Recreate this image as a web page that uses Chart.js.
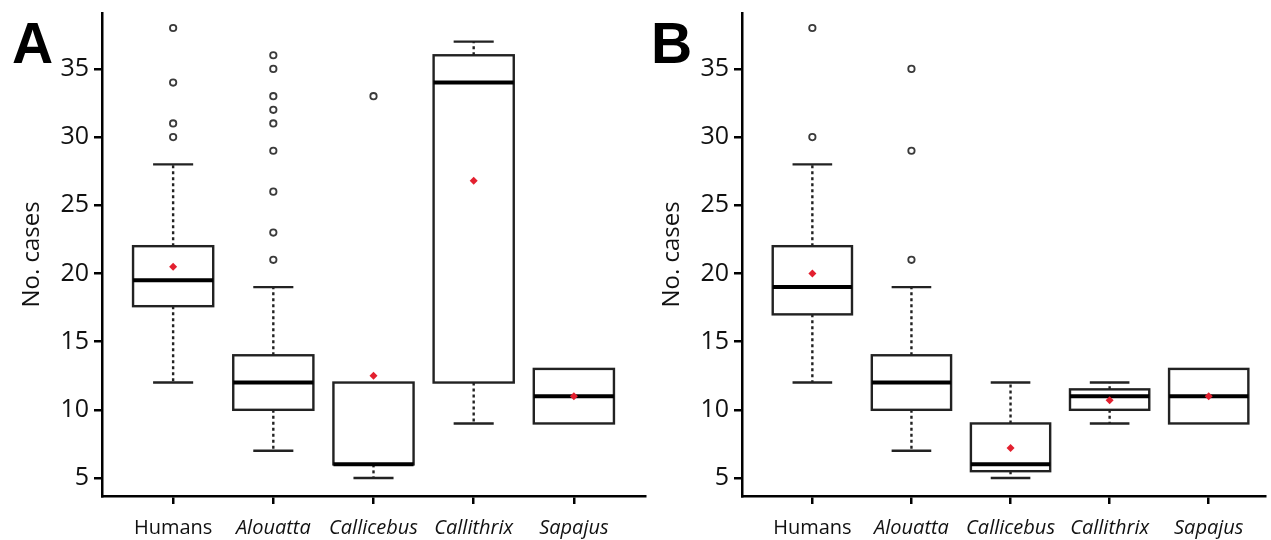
<!DOCTYPE html>
<html lang="en">
<head>
    <meta charset="UTF-8">
    <title>No. cases boxplots</title>
    <script src="https://cdn.jsdelivr.net/npm/chart.js"></script>
    <style>
        body { margin: 0; background: #fff; width: 1271px; height: 540px; position: relative; overflow: hidden; }
        .wrap { position: absolute; top: 0; height: 540px; }
        #wrapA { left: 0; width: 660px; }
        #wrapB { left: 640px; width: 631px; }
        .letter {
            position: absolute; top: 15px;
            font-family: "Liberation Sans", Arial, sans-serif;
            font-weight: bold; font-size: 57px; line-height: 57px; color: #000;
        }
    </style>
</head>
<body>
    <div class="wrap" id="wrapA"><canvas id="chartA"></canvas></div>
    <div class="wrap" id="wrapB"><canvas id="chartB"></canvas></div>
    <div class="letter" style="left:12px">A</div>
    <div class="letter" style="left:651px">B</div>

    <script>
        // categories shared by both panels
        var categories = ['Humans', 'Alouatta', 'Callicebus', 'Callithrix', 'Sapajus'];
        var yTicks = [5, 10, 15, 20, 25, 30, 35];

        // panel A : box statistics per category
        var aLow = [12, 7, 5, 9, 9];
        var aQ1 = [17.6, 10, 6, 12, 9];
        var aMedian = [19.5, 12, 6, 34, 11];
        var aQ3 = [22, 14, 12, 36, 13];
        var aHigh = [28, 19, 12, 37, 13];
        var aMean = [20.5, null, 12.5, 26.8, 11];
        var aOutliers = [[30, 31, 34, 38], [21, 23, 26, 29, 31, 32, 33, 35, 36], [33], [], []];

        // panel B
        var bLow = [12, 7, 5, 9, 9];
        var bQ1 = [17, 10, 5.5, 10, 9];
        var bMedian = [19, 12, 6, 11, 11];
        var bQ3 = [22, 14, 9, 11.5, 13];
        var bHigh = [28, 19, 12, 12, 13];
        var bMean = [20, null, 7.2, 10.7, 11];
        var bOutliers = [[30, 38], [21, 29, 35], [], [], []];

        // draws boxes, whiskers and medians with the chart's scales
        var boxPlugin = {
            id: 'boxes',
            beforeDatasetsDraw: function (chart) {
                var s = chart.options.plugins.boxes;
                var x = chart.scales.x, y = chart.scales.y, c = chart.ctx;
                c.save();
                for (var i = 0; i < categories.length; i++) {
                    var xl = x.getPixelForValue(i - 0.4), xr = x.getPixelForValue(i + 0.4);
                    var cl = x.getPixelForValue(i - 0.2), cr = x.getPixelForValue(i + 0.2);
                    var xc = x.getPixelForValue(i);
                    var yq1 = y.getPixelForValue(s.q1[i]), yq3 = y.getPixelForValue(s.q3[i]);
                    var ylo = y.getPixelForValue(s.low[i]), yhi = y.getPixelForValue(s.high[i]);
                    var ymed = y.getPixelForValue(s.median[i]);

                    c.strokeStyle = '#222';
                    c.lineWidth = 2.4;
                    // whiskers
                    c.setLineDash([3, 3]);
                    c.beginPath();
                    if (s.high[i] > s.q3[i]) { c.moveTo(xc, yq3); c.lineTo(xc, yhi); }
                    if (s.low[i] < s.q1[i]) { c.moveTo(xc, yq1); c.lineTo(xc, ylo); }
                    c.stroke();
                    c.setLineDash([]);
                    c.beginPath();
                    if (s.high[i] > s.q3[i]) { c.moveTo(cl, yhi); c.lineTo(cr, yhi); }
                    if (s.low[i] < s.q1[i]) { c.moveTo(cl, ylo); c.lineTo(cr, ylo); }
                    c.stroke();
                    // box
                    c.fillStyle = '#fff';
                    c.fillRect(xl, yq3, xr - xl, yq1 - yq3);
                    c.strokeRect(xl, yq3, xr - xl, yq1 - yq3);
                    // median
                    c.strokeStyle = '#000';
                    c.lineWidth = 4;
                    c.beginPath();
                    c.moveTo(xl, ymed); c.lineTo(xr, ymed);
                    c.stroke();
                }
                c.restore();
            }
        };

        function makeChart(id, low, q1, median, q3, high, mean, outliers, xmin, xmax, padRight) {
            var outPts = [];
            outliers.forEach(function (list, i) {
                list.forEach(function (v) { outPts.push({ x: i, y: v }); });
            });
            var meanPts = [];
            mean.forEach(function (v, i) {
                if (v !== null) meanPts.push({ x: i, y: v });
            });
            return new Chart(document.getElementById(id), {
                type: 'scatter',
                data: {
                    datasets: [{
                        data: outPts,
                        pointStyle: 'circle',
                        pointRadius: 3.2,
                        borderWidth: 1.8,
                        borderColor: '#3a3a3a',
                        backgroundColor: '#fff'
                    }, {
                        data: meanPts,
                        pointStyle: 'rectRot',
                        pointRadius: 4,
                        borderWidth: 0,
                        backgroundColor: '#e3202f'
                    }]
                },
                options: {
                    responsive: true,
                    maintainAspectRatio: false,
                    animation: false,
                    layout: { padding: { top: 13, right: padRight, left: 0, bottom: 0 } },
                    plugins: {
                        legend: { display: false },
                        tooltip: { enabled: false },
                        boxes: { low: low, q1: q1, median: median, q3: q3, high: high }
                    },
                    scales: {
                        x: {
                            type: 'linear',
                            min: xmin,
                            max: xmax,
                            afterBuildTicks: function (scale) {
                                scale.ticks = categories.map(function (c, i) { return { value: i }; });
                            },
                            afterFit: function (scale) {
                                scale.height = 44;
                                scale.paddingLeft = 0;
                                scale.paddingRight = 0;
                            },
                            grid: { drawOnChartArea: false, drawTicks: true, tickLength: 8, color: '#000', lineWidth: 2.5 },
                            border: { display: true, color: '#000', width: 2.5 },
                            ticks: {
                                color: '#111',
                                padding: 12,
                                maxRotation: 0,
                                autoSkip: false,
                                font: function (ctx) {
                                    return { family: '"Open Sans", sans-serif', size: 20, style: ctx.index > 0 ? 'italic' : 'normal' };
                                },
                                callback: function (v) { return categories[v]; }
                            }
                        },
                        y: {
                            min: 3.68,
                            max: 39.1,
                            afterBuildTicks: function (scale) {
                                scale.ticks = yTicks.map(function (v) { return { value: v }; });
                            },
                            afterFit: function (scale) {
                                scale.width = 102;
                                scale.paddingTop = 0;
                                scale.paddingBottom = 0;
                            },
                            grid: { drawOnChartArea: false, drawTicks: true, tickLength: 8, color: '#000', lineWidth: 2.5 },
                            border: { display: true, color: '#000', width: 2.5 },
                            ticks: {
                                color: '#111',
                                padding: 5,
                                font: { family: '"Open Sans", sans-serif', size: 25 }
                            },
                            title: {
                                display: true,
                                text: 'No. cases',
                                color: '#111',
                                padding: { top: 18, bottom: 0 },
                                font: { family: '"Open Sans", sans-serif', size: 24 }
                            }
                        }
                    }
                },
                plugins: [boxPlugin]
            });
        }

        makeChart('chartA', aLow, aQ1, aMedian, aQ3, aHigh, aMean, aOutliers, -0.71, 4.71, 15);
        makeChart('chartB', bLow, bQ1, bMedian, bQ3, bHigh, bMean, bOutliers, -0.71, 4.57, 0);
    </script>
</body>
</html>
